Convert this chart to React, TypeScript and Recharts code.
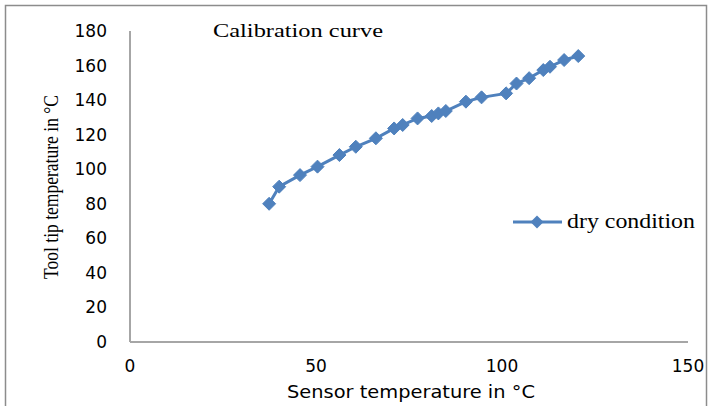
import React from 'react';
import { LineChart, Line, XAxis, YAxis, Customized } from 'recharts';

const sensorTemp = [37.4, 40.1, 45.7, 50.4, 56.3, 60.7, 66.1, 71.0, 73.3, 77.3, 81.1, 82.9, 84.9, 90.3, 94.5, 101.1, 103.9, 107.3, 111.1, 112.9, 116.7, 120.5];
const toolTipTemp = [80, 89.9, 96.6, 101.5, 108.2, 113, 117.9, 123.6, 125.6, 129.4, 130.8, 132.3, 133.7, 139.1, 141.6, 143.9, 149.6, 152.7, 157.4, 159.3, 163.2, 165.5];
const xTicks = [0, 50, 100, 150];
const yTicks = [0, 20, 40, 60, 80, 100, 120, 140, 160, 180];
const seriesName = 'dry condition';
const title = 'Calibration curve';
const xLabel = 'Sensor temperature in °C';
const yLabel = 'Tool tip temperature in °C';

const data = sensorTemp.map((x, i) => ({ x, y: toolTipTemp[i] }));

const BLUE = '#4f81bd';

const Diamond = (props: any) => {
  const { cx, cy, index } = props;
  if (cx == null || cy == null) return null;
  const r = 6.5;
  return (
    <path
      key={`d-${index}`}
      d={`M${cx},${cy - r}L${cx + r},${cy}L${cx},${cy + r}L${cx - r},${cy}Z`}
      fill={BLUE}
      stroke={BLUE}
      strokeWidth={1}
    />
  );
};

const Extras = () => (
  <g>
    <rect x={5.5} y={5.5} width={701} height={410} fill="none" stroke="#8c8c8c" strokeWidth={1.5} />
    <text x={213} y={37} fontFamily="'Liberation Serif', serif" fontSize={19} fill="#000" textLength={170} lengthAdjust="spacingAndGlyphs">{title}</text>
    <text x={411} y={398} textAnchor="middle" fontFamily="'DejaVu Sans', sans-serif" fontSize={17} fill="#000" textLength={248} lengthAdjust="spacingAndGlyphs">{xLabel}</text>
    <text x={0} y={0} transform="translate(58,187) rotate(-90)" textAnchor="middle" fontFamily="'Liberation Serif', serif" fontSize={21} fill="#000" textLength={184} lengthAdjust="spacingAndGlyphs">{yLabel}</text>
    <line x1={513} y1={222} x2={562} y2={222} stroke={BLUE} strokeWidth={3} />
    <path d={`M537,215.5L543.5,222L537,228.5L530.5,222Z`} fill={BLUE} />
    <text x={567} y={228} fontFamily="'Liberation Serif', serif" fontSize={20} fill="#000" textLength={128} lengthAdjust="spacingAndGlyphs">{seriesName}</text>
  </g>
);

export default function App() {
  return (
    <div style={{ position: 'absolute', left: 0, top: 0, width: 713, height: 406, background: '#fff' }}>
      <LineChart width={713} height={406} data={data} margin={{ top: 31, right: 25, bottom: 34, left: 70 }}>
        <XAxis
          type="number"
          dataKey="x"
          domain={[0, 150]}
          ticks={xTicks}
          height={30}
          tickLine={false}
          axisLine={{ stroke: '#a6a6a6', strokeWidth: 2 }}
          tick={{ fill: '#000', fontSize: 17, fontFamily: "'DejaVu Sans', sans-serif" }}
          tickMargin={12}
          interval={0}
        />
        <YAxis
          type="number"
          dataKey="y"
          domain={[0, 180]}
          ticks={yTicks}
          width={60}
          tickLine={false}
          axisLine={{ stroke: '#a6a6a6', strokeWidth: 2 }}
          tick={{ fill: '#000', fontSize: 17, fontFamily: "'DejaVu Sans', sans-serif" }}
          tickMargin={17}
          interval={0}
        />
        <Line
          type="linear"
          dataKey="y"
          stroke={BLUE}
          strokeWidth={3}
          dot={Diamond}
          activeDot={false}
          isAnimationActive={false}
        />
        <Customized component={Extras} />
      </LineChart>
    </div>
  );
}
